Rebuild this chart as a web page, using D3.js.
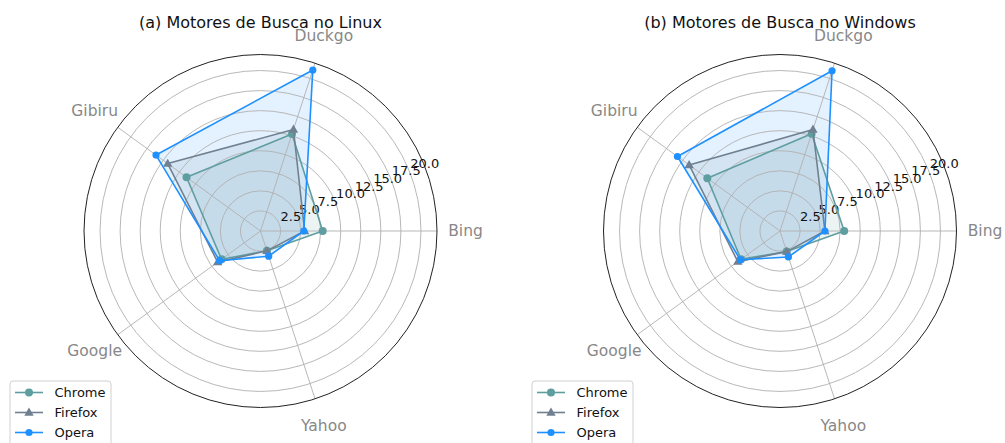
<!DOCTYPE html>
<html>
<head>
<meta charset="utf-8">
<script src="https://cdn.jsdelivr.net/npm/d3@7/dist/d3.min.js"></script>
<style>
  body { margin: 0; background: #fff; }
  text { font-family: "DejaVu Sans", sans-serif; }
</style>
</head>
<body>
<script>
// chart data
var categories = ["Bing", "Duckgo", "Gibiru", "Google", "Yahoo"];
var browsers = ["Chrome", "Firefox", "Opera"];
var linuxChrome = [7.75, 12.7, 11.4, 6.0, 2.6];
var linuxFirefox = [5.5, 13.3, 14.3, 6.6, 2.6];
var linuxOpera = [5.4, 21.1, 16.1, 6.3, 3.3];
var windowsChrome = [8.0, 12.75, 11.2, 6.0, 2.7];
var windowsFirefox = [5.6, 13.3, 14.0, 6.5, 2.7];
var windowsOpera = [5.6, 21.0, 15.8, 6.1, 3.4];
var rTicks = [2.5, 5.0, 7.5, 10.0, 12.5, 15.0, 17.5, 20.0];
var titles = ["(a) Motores de Busca no Linux", "(b) Motores de Busca no Windows"];

var colors = { Chrome: "cadetblue", Firefox: "slategray", Opera: "dodgerblue" };

var width = 1005, height = 443;
var svg = d3.select("body").append("svg")
  .attr("width", width)
  .attr("height", height);

var radius = 176.5;
var r = d3.scaleLinear().domain([0, 22]).range([0, radius]);
// matplotlib angle (ccw from east) -> d3 radial angle (cw from north)
var theta = d3.scaleLinear().domain([0, categories.length]).range([Math.PI / 2, Math.PI / 2 - 2 * Math.PI]);

function xy(i, v) {
  var a = theta(i);
  return [r(v) * Math.sin(a), -r(v) * Math.cos(a)];
}

function drawMarker(g, name, x, y) {
  if (name === "Firefox") {
    g.append("path")
      .attr("d", d3.symbol().type(d3.symbolTriangle).size(38)())
      .attr("transform", "translate(" + x + "," + (y + 0.5) + ")")
      .attr("fill", colors[name]);
  } else {
    g.append("circle")
      .attr("cx", x).attr("cy", y)
      .attr("r", name === "Opera" ? 3.6 : 4)
      .attr("fill", colors[name]);
  }
}

function radar(cx, cy, title, series, legendX) {
  var g = svg.append("g").attr("transform", "translate(" + cx + "," + cy + ")");

  var radial = d3.lineRadial()
    .angle(function (d, i) { return theta(i); })
    .radius(function (d) { return r(d); })
    .curve(d3.curveLinearClosed);

  // fills
  browsers.forEach(function (b, k) {
    g.append("path")
      .attr("d", radial(series[k]))
      .attr("fill", colors[b])
      .attr("fill-opacity", 0.12);
  });

  // grid rings
  g.selectAll(".ring").data(rTicks).enter().append("circle")
    .attr("r", function (d) { return r(d); })
    .attr("fill", "none")
    .attr("stroke", "#b0b0b0")
    .attr("stroke-width", 0.9);

  // spokes
  categories.forEach(function (c, i) {
    var p = xy(i, 22);
    g.append("line")
      .attr("x1", 0).attr("y1", 0)
      .attr("x2", p[0]).attr("y2", p[1])
      .attr("stroke", "#b0b0b0")
      .attr("stroke-width", 0.9);
  });

  // outer circle
  g.append("circle")
    .attr("r", radius)
    .attr("fill", "none")
    .attr("stroke", "#222")
    .attr("stroke-width", 1);

  // radial tick labels at 22.5 degrees
  var la = 22.5 * Math.PI / 180;
  rTicks.forEach(function (t) {
    g.append("text")
      .attr("x", r(t) * Math.cos(la) + 1.5)
      .attr("y", -r(t) * Math.sin(la) - 2)
      .attr("font-size", 13)
      .attr("fill", "#111")
      .text(t.toFixed(1));
  });

  // category labels
  categories.forEach(function (c, i) {
    var a = i * 2 * Math.PI / categories.length;
    g.append("text")
      .attr("x", 205 * Math.cos(a))
      .attr("y", -205 * Math.sin(a))
      .attr("text-anchor", "middle")
      .attr("dominant-baseline", "central")
      .attr("font-size", 15.5)
      .attr("fill", "#888")
      .text(c);
  });

  // lines and markers
  browsers.forEach(function (b, k) {
    g.append("path")
      .attr("d", radial(series[k]))
      .attr("fill", "none")
      .attr("stroke", colors[b])
      .attr("stroke-width", 1.6)
      .attr("stroke-linejoin", "round");
    series[k].forEach(function (v, i) {
      var p = xy(i, v);
      drawMarker(g, b, p[0], p[1]);
    });
  });

  // title
  svg.append("text")
    .attr("x", cx)
    .attr("y", 28)
    .attr("text-anchor", "middle")
    .attr("font-size", 16)
    .attr("fill", "#111")
    .text(title);

  // legend
  var lg = svg.append("g").attr("transform", "translate(" + legendX + ",381)");
  lg.append("rect")
    .attr("x", 0).attr("y", 0)
    .attr("width", 101).attr("height", 70)
    .attr("rx", 3)
    .attr("fill", "#fff")
    .attr("fill-opacity", 0.8)
    .attr("stroke", "#d0d0d0");
  browsers.forEach(function (b, k) {
    var y = 11.5 + k * 20;
    lg.append("line")
      .attr("x1", 5).attr("x2", 33)
      .attr("y1", y).attr("y2", y)
      .attr("stroke", colors[b])
      .attr("stroke-width", 1.6);
    drawMarker(lg, b, 19, y);
    lg.append("text")
      .attr("x", 44.5)
      .attr("y", y)
      .attr("dominant-baseline", "central")
      .attr("font-size", 13)
      .attr("fill", "#111")
      .text(b);
  });
}

radar(260.5, 231, titles[0], [linuxChrome, linuxFirefox, linuxOpera], 10);
radar(780, 231, titles[1], [windowsChrome, windowsFirefox, windowsOpera], 532);
</script>
</body>
</html>
